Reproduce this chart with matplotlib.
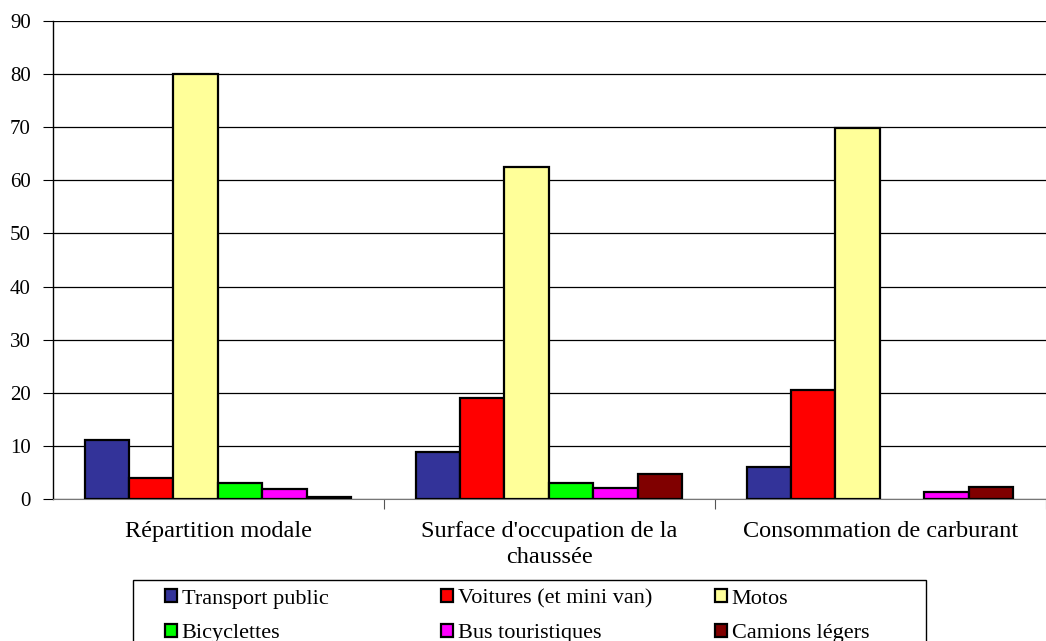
import numpy as np
import matplotlib.pyplot as plt
from matplotlib.patches import Rectangle

plt.rcParams['font.family'] = ['Liberation Serif', 'DejaVu Serif']

categories = ["Répartition modale", "Surface d'occupation de la\nchaussée", "Consommation de carburant"]
series = ["Transport public", "Voitures (et mini van)", "Motos",
          "Bicyclettes", "Bus touristiques", "Camions légers"]
transport_public = [11.1, 8.9, 6.0]
voitures = [4.0, 19.0, 20.5]
motos = [80.0, 62.5, 69.9]
bicyclettes = [3.0, 3.0, 0.0]
bus_touristiques = [1.9, 2.1, 1.3]
camions_legers = [0.3, 4.7, 2.3]
values = [transport_public, voitures, motos, bicyclettes, bus_touristiques, camions_legers]
colors = ["#333399", "#ff0000", "#ffff99", "#00ff00", "#ff00ff", "#800000"]

W, H = 1046, 641
fig = plt.figure(figsize=(W / 100, H / 100), dpi=100)
ax = fig.add_axes([53 / W, 1 - 499 / H, 993 / W, 478 / H])

x = np.arange(len(categories))
w = 0.134
start = 0.096 - 0.5
handles = []
for i, (vals, col) in enumerate(zip(values, colors)):
    pos = x + start + w * (i + 0.5)
    keep = [v > 0 for v in vals]
    b = ax.bar(pos[keep], np.array(vals)[keep], width=w, color=col, edgecolor='black',
               linewidth=1.6, label=series[i], zorder=3)
    handles.append(b)

ax.set_ylim(0, 90)
ax.set_xlim(-0.5, -0.5 + 993 / 335)
ax.set_yticks(range(0, 91, 10))
ax.yaxis.grid(True, color='black', linewidth=0.9, zorder=0)
ax.tick_params(axis='y', labelsize=15, length=7, direction='out', pad=9)
ax.set_xticks(x + 0.5, minor=False)
ax.set_xticklabels([])
ax.tick_params(axis='x', length=7, direction='out', color='#555555')
ax.set_xticks(x, minor=True)
ax.set_xticklabels(categories, minor=True, fontsize=17.5, linespacing=1.3)
ax.tick_params(axis='x', which='minor', length=0, pad=16)
for s in ['top', 'right']:
    ax.spines[s].set_visible(False)
ax.spines['bottom'].set_color('#777777')
ax.spines['left'].set_linewidth(1.0)

# legend frame
fig.add_artist(Rectangle((133 / W, -0.01), (926 - 133) / W, (H - 580) / H + 0.01,
                         transform=fig.transFigure, fill=False, edgecolor='black',
                         linewidth=1.0))
col_x = [165, 441, 715]
for c in range(3):
    idx = [c, c + 3]
    fig.legend([handles[k] for k in idx], [series[k] for k in idx],
               loc='upper left', bbox_to_anchor=(col_x[c] / W, 1 - 589 / H),
               frameon=False, fontsize=16, handlelength=0.55, handleheight=0.55,
               handletextpad=0.2, borderpad=0, labelspacing=0.68, borderaxespad=0)

fig.savefig('out.png', dpi=100)
